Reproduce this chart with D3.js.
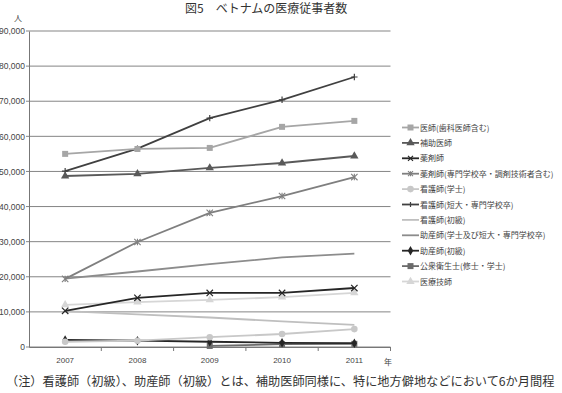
<!DOCTYPE html>
<html><head><meta charset="utf-8">
<script src="https://cdn.jsdelivr.net/npm/d3@7"></script>
<style>
html,body{margin:0;padding:0;background:#fff;overflow:hidden;}
svg{display:block;}
</style></head>
<body>
<svg id="chart" width="562" height="393"></svg>
<script>
const years = ["2007","2008","2009","2010","2011"];
const yTicks = [0,10000,20000,30000,40000,50000,60000,70000,80000,90000];
const seriesNames = [
  "医師(歯科医師含む)","補助医師","薬剤師","薬剤師(専門学校卒・調剤技術者含む)",
  "看護師(学士)","看護師(短大・専門学校卒)","看護師(初級)",
  "助産師(学士及び短大・専門学校卒)","助産師(初級)","公衆衛生士(修士・学士)","医療技師"
];
const v_ishi      = [55000, 56400, 56700, 62700, 64400];
const v_hojo      = [48700, 49300, 51000, 52400, 54400];
const v_yakuzai   = [10300, 14000, 15400, 15400, 16800];
const v_yakuzai2  = [19400, 29900, 38200, 43000, 48400];
const v_kango1    = [1500, 1800, 2800, 3700, 5100];
const v_kango2    = [50100, 56500, 65200, 70400, 76900];
const v_kango3    = [10200, 9300, 8400, 7300, 6300];
const v_josan1    = [19500, 21500, 23600, 25500, 26600];
const v_josan2    = [2000, 1800, 1500, 1200, 1100];
const v_koshu     = [null, null, 300, 800, 900];
const v_gishi     = [12000, 12800, 13400, 14200, 15400];
const seriesValues = [v_ishi,v_hojo,v_yakuzai,v_yakuzai2,v_kango1,v_kango2,v_kango3,v_josan1,v_josan2,v_koshu,v_gishi];
const colors  = ["#a6a6a6","#595959","#262626","#7f7f7f","#c8c8c8","#404040","#bfbfbf","#8c8c8c","#262626","#6b6b6b","#d6d6d6"];
const markers = ["square","triangle","x","star","circle","plus","none","none","diamond","square","triangle"];

const svg = d3.select("#chart");
const L = 29, R = 390.5, T = 31, B = 347;
const x = d3.scaleBand().domain(years).range([L, R]);
const y = d3.scaleLinear().domain([0, 90000]).range([B, T]);
const cx = d => x(d) + x.bandwidth()/2;

// title
svg.append("text").attr("x", 185).attr("y", 13).attr("font-family","Noto Sans CJK JP")
  .attr("font-size", 12).attr("fill","#333").text("図5　ベトナムの医療従事者数");

// gridlines
svg.append("g").selectAll("line").data(yTicks).join("line")
  .attr("x1", L-3).attr("x2", R).attr("y1", d=>y(d)).attr("y2", d=>y(d))
  .attr("stroke", "#858585").attr("stroke-width", 1);

// y axis
const yAxis = d3.axisLeft(y).tickValues(yTicks).tickSize(0).tickPadding(4)
  .tickFormat(d3.format(","));
const gy = svg.append("g").attr("transform", `translate(${L},0)`).call(yAxis);
gy.select(".domain").attr("stroke","#777");
gy.selectAll("text").attr("font-family","Liberation Sans, Arial").attr("font-size", 8.5).attr("fill","#444");

// x axis
const xAxis = d3.axisBottom(x).tickSize(0).tickPadding(10);
const gx = svg.append("g").attr("transform", `translate(0,${B})`).call(xAxis);
gx.select(".domain").attr("stroke","#777");
gx.selectAll("text").attr("font-family","Liberation Sans, Arial").attr("font-size", 8).attr("fill","#444");
const bounds = years.map(d => x(d) + x.bandwidth());
svg.append("g").selectAll("line").data(bounds).join("line")
  .attr("x1", d=>d).attr("x2", d=>d).attr("y1", B).attr("y2", B+4)
  .attr("stroke","#777");

svg.append("text").attr("x", 14).attr("y", 21).attr("font-family","Noto Sans CJK JP")
  .attr("font-size", 8).attr("fill","#444").text("人");
svg.append("text").attr("x", 384).attr("y", 365).attr("font-family","Noto Sans CJK JP")
  .attr("font-size", 8).attr("fill","#444").text("年");

function drawMarker(g, type, color, size) {
  const s = size;
  if (type === "none") return;
  if (type === "x") {
    g.append("path").attr("d", `M${-s},${-s}L${s},${s}M${-s},${s}L${s},${-s}`).attr("stroke", color).attr("stroke-width", 1.2).attr("fill","none");
  } else if (type === "plus") {
    g.append("path").attr("d", `M${-s},0L${s},0M0,${-s}L0,${s}`).attr("stroke", color).attr("stroke-width", 1.2).attr("fill","none");
  } else if (type === "star") {
    g.append("path").attr("d", `M${-s},${-s}L${s},${s}M${-s},${s}L${s},${-s}M0,${-s}L0,${s}`).attr("stroke", color).attr("stroke-width", 1.1).attr("fill","none");
  } else {
    const symMap = {square: d3.symbolSquare, triangle: d3.symbolTriangle, circle: d3.symbolCircle, diamond: d3.symbolDiamond};
    const area = {square: 36, triangle: 30, circle: 34, diamond: 26}[type];
    g.append("path").attr("d", d3.symbol(symMap[type], area)()).attr("fill", color);
  }
}

const line = d3.line().defined(d => d.v !== null).x(d => cx(d.year)).y(d => y(d.v));

for (let i = seriesNames.length - 1; i >= 0; i--) {
  const pts = years.map((yr, j) => ({year: yr, v: seriesValues[i][j]}));
  svg.append("path").datum(pts).attr("d", line).attr("fill","none")
    .attr("stroke", colors[i]).attr("stroke-width", 1.8);
  pts.filter(d => d.v !== null).forEach(d => {
    const g = svg.append("g").attr("transform", `translate(${cx(d.year)},${y(d.v)})`);
    drawMarker(g, markers[i], colors[i], 3.2);
  });
}

// legend
const lg = svg.append("g");
seriesNames.forEach((name, i) => {
  const yy = 127.5 + i * 15.4;
  lg.append("line").attr("x1", 402).attr("x2", 419).attr("y1", yy).attr("y2", yy)
    .attr("stroke", colors[i]).attr("stroke-width", 1.8);
  const g = lg.append("g").attr("transform", `translate(410.5,${yy})`);
  drawMarker(g, markers[i], colors[i], 2.5);
  lg.append("text").attr("x", 420).attr("y", yy + 3).attr("font-family","Noto Sans CJK JP")
    .attr("font-size", 8).attr("fill","#444").text(name);
});

// note
svg.append("text").attr("x", 6).attr("y", 386).attr("font-family","Noto Sans CJK JP")
  .attr("font-size", 12.2).attr("fill","#333")
  .text("（注）看護師（初級）、助産師（初級）とは、補助医師同様に、特に地方僻地などにおいて6か月間程");
</script>
</body></html>
